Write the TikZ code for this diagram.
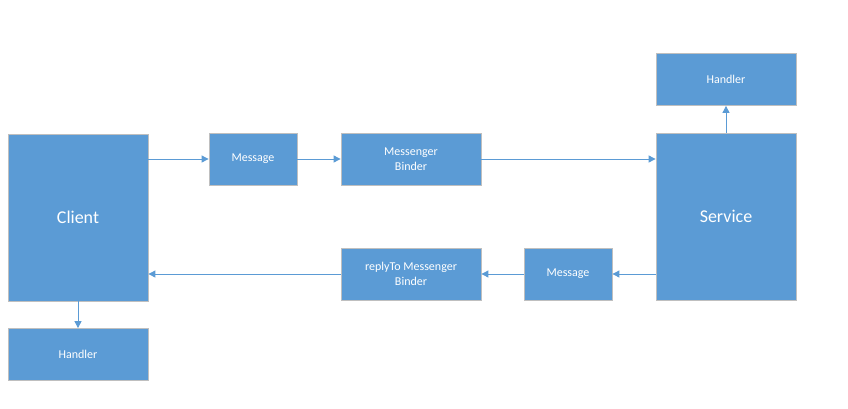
\documentclass[tikz,border=0pt]{standalone}
\usepackage{fontspec}
\setmainfont{Carlito}
\usetikzlibrary{arrows.meta}

\definecolor{boxblue}{HTML}{5B9BD5}
\definecolor{boxedge}{HTML}{BFBFBF}

\tikzset{
  box/.style={draw=boxedge, line width=0.8pt, fill=boxblue, text=white,
    inner sep=0pt, align=center, font=\fontsize{12}{15}\selectfont},
  bigbox/.style={box, minimum width=140pt, minimum height=167pt,
    font=\fontsize{18}{21}\selectfont},
  wide/.style={box, minimum width=140pt, minimum height=52pt},
  narrow/.style={box, minimum width=88pt, minimum height=52pt},
  link/.style={draw=boxblue, line width=0.9pt, -{Triangle[length=7pt,width=7pt]}}
}

\begin{document}
\begin{tikzpicture}[x=1pt, y=-1pt]
        \useasboundingbox (0, 0) rectangle (848, 408);

        \node[bigbox] (client) at (78, 217.5) {Client};
        \node[wide] (chandler) at (78, 354.5) {Handler};

        \node[narrow] (msg) at (253, 159) {Message};
        \node[wide] (binder) at (411, 159) {Messenger\\Binder};

        \node[bigbox] (service) at (726, 216.5) {Service};
        \node[wide] (shandler) at (726, 79.5) {Handler};

        \node[wide] (reply) at (411, 274) {replyTo Messenger\\Binder};
        \node[narrow] (msgback) at (568, 274) {Message};

        % request path
        \draw[link] (client.east |- msg.west) to (msg.west);
        \draw[link] (msg) to (binder);
        \draw[link] (binder.east) to (service.west |- binder.east);
        \draw[link] (service) to (shandler);

        % reply path
        \draw[link] (service.west |- msgback.east) to (msgback.east);
        \draw[link] (msgback) to (reply);
        \draw[link] (reply.west) to (client.east |- reply.west);
        \draw[link] (client) to (chandler);

      \end{tikzpicture}
\end{document}
